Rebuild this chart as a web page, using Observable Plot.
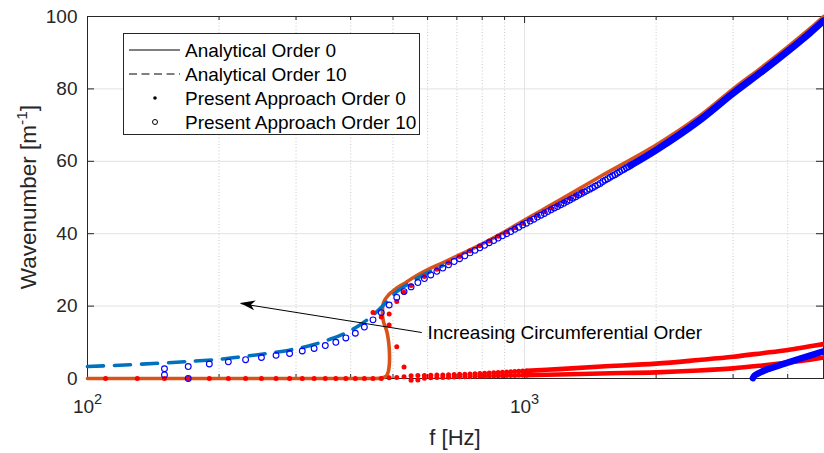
<!DOCTYPE html>
<html><head><meta charset="utf-8">
<script src="https://cdn.jsdelivr.net/npm/d3@7"></script>
<script src="https://cdn.jsdelivr.net/npm/@observablehq/plot@0.6"></script>
<style>
body{margin:0;background:#fff;}
#chart{width:824px;height:453px;}
</style></head><body><div id="chart"></div>
<script>
// ---------- tick arrays ----------
const xMajorTicks = [100, 1000];
const xMinorTicks = [200, 300, 400, 500, 600, 700, 800, 900, 2000, 3000, 4000];
const yTicks = [0, 20, 40, 60, 80, 100];
const yGridTicks = [20, 40, 60, 80];

// ---------- Analytical Order 0 (solid orange) ----------
const a0F = [100,200,300,400,450,470,478,484,488,490.5,491,490,487.5,484,480,476,473.5,473,474.5,479,487,497,510,528,550,577,610,640,700,800,900,1000,1200,1500,2000,2500,3000,3500,4000,4500,4830];
const a0K = [0,0,0,0,0,0.1,0.4,0.9,2.0,4.0,6.0,8.5,11.0,13.0,14.3,15.5,17.0,18.8,20.4,21.7,22.9,23.9,25.0,26.1,27.5,29.0,30.5,31.6,33.8,37.2,40.5,43.8,49.2,56.0,64.5,72.3,80.0,86.1,91.6,96.7,100.0];

// ---------- Analytical Order 10 (dashed blue) ----------
const a10F = [100,125,150,175,200,225,250,275,300,330,360,390,420,450,480,510,546,580,620,650];
const a10K = [3.3,3.8,4.3,4.8,5.3,6.0,6.7,7.4,8.2,9.4,10.9,12.6,14.8,17.5,20.8,24.0,26.4,28.3,30.0,31.2];

// ---------- Present Approach Order 0 (red dots) ----------
const p0BottomF = [110,130,150,170,190,210,230,250,270,290,310,330,350,370,390,410,430,450,470,490,510,530];
const p0BottomK = [0,0,0,0,0,0,0,0,0,0,0,0,0,0,0,0,0,0,0,0.2,0.3,0.5];
const p0BendF = [450,470,490,490,510,510,530,530];
const p0BendK = [18.2,17.0,17.8,14.8,21.3,8.8,23.8,3.2];
const p0MainF = [550,590,630,670,710,750,790,830,870,910,950,990,1030,1070,1110,1150,1190,1230,1270,1310,1350];
const p0MainK = [25.7,28.2,30.2,32.0,33.7,35.3,36.7,38.0,39.3,40.5,41.7,42.9,44.0,45.1,46.1,47.1,48.0,48.9,49.8,50.7,51.6];
const p0LowF = [550,570,590,610,630,650,670,690,710,730,750,770,790,810,830,850,870,890,910,930,950,970,990,1010];
const p0LowAK = [0.75,0.8,0.85,0.9,0.95,1.0,1.05,1.1,1.15,1.2,1.25,1.3,1.4,1.45,1.5,1.6,1.65,1.7,1.8,1.85,1.9,2.0,2.05,2.1];
const p0LowBK = [-0.5,-0.4,0.1,0.2,0.25,0.3,0.35,0.4,0.45,0.5,0.55,0.6,0.62,0.65,0.68,0.7,0.73,0.76,0.8,0.82,0.85,0.87,0.9,0.92];
// dense (merged) parts of the two low branches
const p0BandF = [1010,1200,1500,2000,2500,3000,3500,4000,4500,4830];
const p0BandAK = [2.1,2.6,3.3,4.1,5.1,6.0,7.0,7.9,8.9,9.5];
const p0BandBK = [0.92,1.1,1.4,1.7,2.2,2.8,3.6,4.4,5.2,5.8];

// ---------- Present Approach Order 10 (blue circles) ----------
const p10F = [150,150,170,170,190,210,230,250,270,290,310,330,350,370,390,410,430,450,470,490,510,530,550,570,590,610,630,650,670,690,710,730,750,770,790,810,830,850,870,890,910,930,950,970,990,1010,1030,1050,1070,1090,1110,1130,1150,1170,1190,1210,1230,1250,1270,1290,1310,1330,1350,1370,1390,1410,1430,1450,1470,1490,1510,1530,1550,1570,1590,1610,1630,1650,1670,1690,1710,1730,1750];
const p10K = [2.7,1.0,3.3,0,4.0,4.6,5.2,5.8,6.4,6.9,7.6,8.3,9.1,10.0,11.2,12.5,14.2,16.2,18.2,20.3,22.4,24.0,25.3,26.5,27.6,28.6,29.6,30.5,31.4,32.3,33.1,33.9,34.7,35.4,36.1,36.8,37.5,38.1,38.8,39.4,40.0,40.6,41.2,41.8,42.4,42.9,43.5,44.0,44.6,45.1,45.6,46.1,46.6,47.1,47.5,48.0,48.4,48.9,49.3,49.8,50.2,50.7,51.1,51.5,51.9,52.3,52.7,53.1,53.5,53.9,54.4,54.8,55.2,55.6,56.0,56.3,56.7,57.1,57.5,57.8,58.2,58.5,58.9];
const p10BandF = [1750,2000,2500,3000,3500,4000,4500,4830];
const p10BandK = [58.9,63.1,71.1,78.8,84.9,90.4,95.5,98.8];
const p10LowF = [3330,3360,3400,3463,3600,3800,4000,4400,4830];
const p10LowK = [0.1,0.8,1.2,1.7,2.6,3.5,4.4,6.0,7.5];

// ---------- legend & annotation ----------
const legendLabels = ["Analytical Order 0", "Analytical Order 10", "Present Approach Order 0", "Present Approach Order 10"];
const annoText = "Increasing Circumferential Order";
const arrowTail = {f: 582, k: 12.7};
const arrowTip = {f: 224, k: 20.7};
const annoAt = {f: 600, k: 12.6};

// ---------- build ----------
const W = 824, H = 453, mL = 87, mR = 1, mT = 16, mB = 75;
const pw = W - mL - mR, ph = H - mT - mB;
const font = "'Liberation Sans', Arial, Helvetica, sans-serif";
const zip = (fs, ks) => fs.map((f, i) => ({f, k: ks[i]}));
const ORANGE = "#D95319", BLUE_L = "#0072BD", RED = "#FF0000", BLUE = "#0000FF", AX = "#262626";

const plot = Plot.plot({
  width: W, height: H,
  marginLeft: mL, marginRight: mR, marginTop: mT, marginBottom: mB,
  style: {fontFamily: font, fontSize: "19px", background: "white", color: AX, overflow: "visible"},
  x: {type: "log", domain: [100, 4830], label: null},
  y: {domain: [0, 100], label: null},
  marks: [
    Plot.gridY(yGridTicks, {stroke: "#e2e2e2", strokeOpacity: 1, strokeWidth: 1}),
    Plot.ruleX(xMinorTicks, {stroke: "#c9c9c9", strokeDasharray: "1,2.2", strokeWidth: 1}),
    Plot.gridX([1000], {stroke: "#e2e2e2", strokeOpacity: 1, strokeWidth: 1}),
    Plot.frame({stroke: AX, strokeWidth: 1}),
    // inward ticks
    Plot.tickX(xMajorTicks, {x: d => d, insetTop: ph - 7, stroke: AX}),
    Plot.tickX(xMajorTicks, {x: d => d, insetBottom: ph - 7, stroke: AX}),
    Plot.tickX(xMinorTicks, {x: d => d, insetTop: ph - 4, stroke: AX}),
    Plot.tickX(xMinorTicks, {x: d => d, insetBottom: ph - 4, stroke: AX}),
    Plot.tickY(yTicks, {y: d => d, insetRight: pw - 7, stroke: AX}),
    Plot.tickY(yTicks, {y: d => d, insetLeft: pw - 7, stroke: AX}),
    Plot.axisX(xMajorTicks, {tickSize: 0, tickPadding: 21, label: null, tickFormat: d => String(Math.round(Math.log10(d))), fill: AX}),
    Plot.axisY(yTicks, {tickSize: 0, tickPadding: 10, label: null, fill: AX}),
    // analytical
    Plot.line(zip(a0F, a0K), {x: "f", y: "k", stroke: ORANGE, strokeWidth: 3.6, curve: "catmull-rom"}),
    Plot.line(zip(a10F, a10K), {x: "f", y: "k", stroke: BLUE_L, strokeWidth: 3.6, strokeDasharray: "16,11", curve: "catmull-rom"}),
    // present approach order 0
    Plot.line(zip(p0BandF, p0BandAK), {x: "f", y: "k", stroke: RED, strokeWidth: 4.6, strokeLinecap: "round", curve: "catmull-rom"}),
    Plot.line(zip(p0BandF, p0BandBK), {x: "f", y: "k", stroke: RED, strokeWidth: 4.6, strokeLinecap: "round", curve: "catmull-rom"}),
    Plot.dot(zip(p0BottomF, p0BottomK), {x: "f", y: "k", r: 2.5, fill: RED, stroke: "none"}),
    Plot.dot(zip(p0BendF, p0BendK), {x: "f", y: "k", r: 2.5, fill: RED, stroke: "none"}),
    Plot.dot(zip(p0MainF, p0MainK), {x: "f", y: "k", r: 2.5, fill: RED, stroke: "none"}),
    Plot.dot(zip(p0LowF, p0LowAK), {x: "f", y: "k", r: 2.5, fill: RED, stroke: "none"}),
    Plot.dot(zip(p0LowF, p0LowBK), {x: "f", y: "k", r: 2.5, fill: RED, stroke: "none"}),
    // present approach order 10
    Plot.line(zip(p10BandF, p10BandK), {x: "f", y: "k", stroke: BLUE, strokeWidth: 7, strokeLinecap: "round", curve: "catmull-rom"}),
    Plot.line(zip(p10LowF, p10LowK), {x: "f", y: "k", stroke: BLUE, strokeWidth: 6.5, strokeLinecap: "round", curve: "catmull-rom"}),
    Plot.dot(zip(p10F, p10K), {x: "f", y: "k", r: 2.9, stroke: BLUE, strokeWidth: 1.1, fill: "none"}),
    // annotation
    Plot.link([0], {x1: () => arrowTail.f, y1: () => arrowTail.k, x2: () => arrowTip.f, y2: () => arrowTip.k, stroke: "#000", strokeWidth: 1}),
    Plot.text([annoText], {x: () => annoAt.f, y: () => annoAt.k, text: d => d, textAnchor: "start", fill: "#000", fontSize: 19})
  ]
});

const svg = d3.select(plot);

// superscript exponents on x tick labels
svg.selectAll('[aria-label="x-axis tick label"] text').each(function() {
  const t = d3.select(this); const e = t.text(); t.text(null);
  t.append("tspan").text("10");
  t.append("tspan").attr("dy", -9).attr("font-size", 14.5).text(e);
});

// arrowhead (filled, notched) using the plot's scales
const sx = plot.scale("x"), sy = plot.scale("y");
{
  const tx = sx.apply(arrowTip.f), ty = sy.apply(arrowTip.k);
  const ax = sx.apply(arrowTail.f), ay = sy.apply(arrowTail.k);
  const ang = Math.atan2(ay - ty, ax - tx) * 180 / Math.PI;
  svg.append("path")
    .attr("d", "M0,0 L15,-5 L11,0 L15,5 Z")
    .attr("fill", "#000")
    .attr("transform", `translate(${tx},${ty}) rotate(${ang})`);
}

// axis titles
svg.append("text").attr("x", mL + pw / 2).attr("y", 445).attr("text-anchor", "middle")
  .attr("font-family", font).attr("font-size", 22).attr("fill", AX).text("f [Hz]");
{
  const yl = svg.append("text").attr("transform", `translate(36,${mT + ph / 2}) rotate(-90)`)
    .attr("text-anchor", "middle").attr("font-family", font).attr("font-size", 22.5).attr("fill", AX);
  yl.append("tspan").text("Wavenumber [m");
  yl.append("tspan").attr("dy", -9).attr("font-size", 15.5).text("-1");
  yl.append("tspan").attr("dy", 9).text("]");
}

// legend
{
  const lg = svg.append("g").attr("font-family", font).attr("font-size", 19).attr("text-anchor", "start");
  lg.append("rect").attr("x", 123.5).attr("y", 33.5).attr("width", 296).attr("height", 101)
    .attr("fill", "white").attr("stroke", AX).attr("stroke-width", 1);
  const rows = [50, 74, 98, 122];
  lg.append("line").attr("x1", 129).attr("x2", 180).attr("y1", rows[0]).attr("y2", rows[0]).attr("stroke", "#000").attr("stroke-width", 1);
  lg.append("line").attr("x1", 129).attr("x2", 180).attr("y1", rows[1]).attr("y2", rows[1]).attr("stroke", "#000").attr("stroke-width", 1).attr("stroke-dasharray", "8,4.5");
  lg.append("circle").attr("cx", 155).attr("cy", rows[2]).attr("r", 1.8).attr("fill", "#000");
  lg.append("circle").attr("cx", 155).attr("cy", rows[3]).attr("r", 2.5).attr("fill", "none").attr("stroke", "#000").attr("stroke-width", 1);
  legendLabels.forEach((s, i) => {
    lg.append("text").attr("x", 185).attr("y", rows[i] + 6.8).attr("fill", "#000").attr("text-anchor", "start").text(s);
  });
}

document.getElementById("chart").appendChild(plot);
</script>
</body></html>
